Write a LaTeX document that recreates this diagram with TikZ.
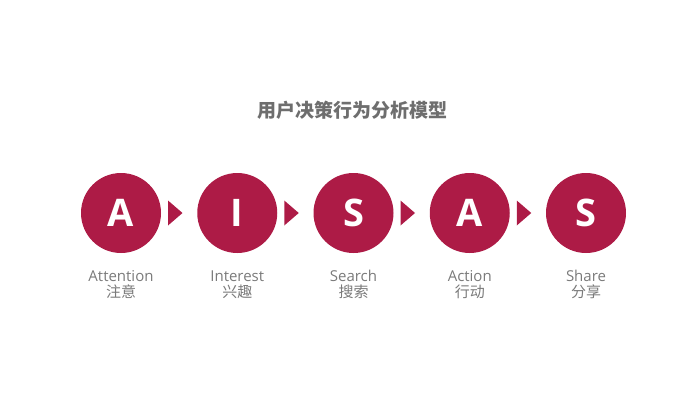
\documentclass[tikz,border=0pt]{standalone}
\usepackage{fontspec}
\usetikzlibrary{calc}
\setmainfont{Open Sans}
\newfontfamily\cjk{Noto Sans CJK SC}
\definecolor{crim}{HTML}{AD1B46}
\definecolor{txt}{HTML}{7A7A7A}
\definecolor{ttl}{HTML}{6E6E6E}
\begin{document}
\begin{tikzpicture}[x=1pt,y=-1pt,
  stage/.style={circle,fill=crim,minimum size=80pt,inner sep=0pt,text=white,font=\fontsize{38}{38}\selectfont\bfseries},
  tri/.style={fill=crim,draw=none},
  lab/.style={text=txt,font=\fontsize{15}{17}\selectfont,align=center,inner sep=0pt}]
\useasboundingbox (0,0) rectangle (700,412);
\node[text=ttl,font=\cjk\fontsize{19}{19}\selectfont\bfseries] (title) at (352,110) {用户决策行为分析模型};
\foreach \i/\L/\E/\C in {0/A/Attention/注意,1/I/Interest/兴趣,2/S/Search/搜索,3/A/Action/行动,4/S/Share/分享}{
  \node[stage] (c\i) at ({121+116.25*\i},213) {\L};
  \node[lab,anchor=base] (e\i) at ({121+116.25*\i},281) {\E};
  \node[lab,anchor=base] (z\i) at ({121+116.25*\i},297) {\cjk\fontsize{15}{17}\selectfont \C};
}
\foreach \i in {0,1,2,3}{
  \coordinate (t\i) at ({121+116.25*\i+47},213);
  \fill[tri] ($(t\i)+(0,-12.5)$) -- ($(t\i)+(14.5,0)$) -- ($(t\i)+(0,12.5)$) -- cycle;
}
\end{tikzpicture}
\end{document}
